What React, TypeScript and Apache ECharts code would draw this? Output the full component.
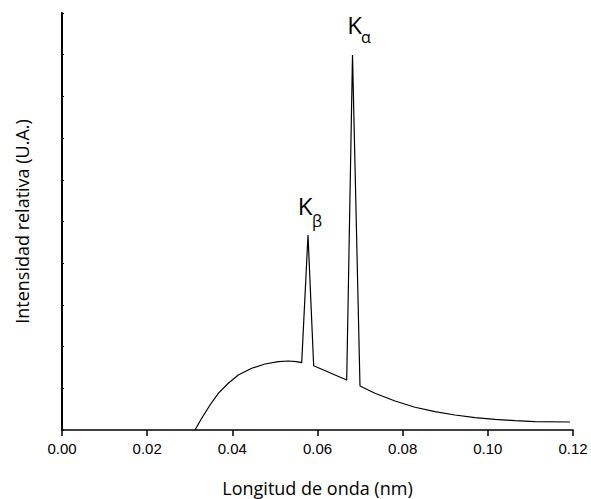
import React, { useEffect, useRef } from "react";
import * as echarts from "echarts";

const wavelength = [
  0.03123, 0.03281, 0.03476, 0.0367, 0.03905, 0.0414, 0.04455, 0.04767,
  0.0508, 0.05314, 0.05512, 0.05629, 0.05777, 0.0591, 0.06686, 0.06822,
  0.06998, 0.0735, 0.0782, 0.0829, 0.08759, 0.09229, 0.09699, 0.10168,
  0.10638, 0.11108, 0.1193,
];
const intensity = [
  0, 0.281, 0.6, 0.88, 1.12, 1.319, 1.48, 1.583, 1.638, 1.655, 1.638, 1.614,
  4.676, 1.54, 1.199, 8.99, 1.055, 0.88, 0.695, 0.545, 0.439, 0.36, 0.295,
  0.257, 0.223, 0.199, 0.192,
];
const xTicks = [0, 0.02, 0.04, 0.06, 0.08, 0.1, 0.12];
const peakBeta = [0.05777, 4.676];
const peakAlpha = [0.06822, 8.99];

export default function App() {
  const ref = useRef<HTMLDivElement>(null);
  useEffect(() => {
    const chart = echarts.init(ref.current!, null, { renderer: "svg" });
    const kStyle = { fontFamily: "Open Sans", fontSize: 24, color: "#000" };
    const sStyle = { fontFamily: "Open Sans", fontSize: 16, color: "#000" };
    chart.setOption({
      animation: false,
      backgroundColor: "#fff",
      grid: {
        left: 62,
        right: 18,
        top: 13,
        bottom: 69,
        containLabel: false,
        outerBoundsMode: "none",
      },
      xAxis: {
        type: "value",
        min: xTicks[0],
        max: xTicks[xTicks.length - 1],
        interval: 0.02,
        name: "Longitud de onda (nm)",
        nameLocation: "middle",
        nameGap: 49,
        nameTextStyle: { fontFamily: "Open Sans", fontSize: 18, color: "#000" },
        axisLine: { lineStyle: { color: "#000", width: 1.5 } },
        axisTick: { length: 6, lineStyle: { color: "#000", width: 1.5 } },
        axisLabel: {
          margin: 11,
          fontFamily: "Liberation Sans",
          fontSize: 15,
          color: "#000",
          formatter: (v: number) => v.toFixed(2),
        },
        splitLine: { show: false },
      },
      yAxis: {
        type: "value",
        min: 0,
        max: 10,
        interval: 1,
        name: "Intensidad relativa (U.A.)",
        nameLocation: "middle",
        nameGap: 31,
        nameTextStyle: { fontFamily: "Open Sans", fontSize: 18, color: "#000" },
        axisLine: { show: true, lineStyle: { color: "#000", width: 2 } },
        axisTick: { show: true, inside: true, length: 2, lineStyle: { color: "#000" } },
        axisLabel: { show: false },
        splitLine: { show: false },
      },
      series: [
        {
          type: "line",
          data: wavelength.map((x, i) => [x, intensity[i]]),
          showSymbol: false,
          symbol: "none",
          lineStyle: { color: "#000", width: 1.2 },
          markPoint: {
            symbol: "circle",
            symbolSize: 0,
            silent: true,
            data: [
              { coord: peakBeta, label: { show: true, position: "inside", offset: [-3, -30], formatter: "K", ...kStyle } },
              { coord: peakBeta, label: { show: true, position: "inside", offset: [9, -14], formatter: "β", ...sStyle } },
              { coord: peakAlpha, label: { show: true, position: "inside", offset: [2, -31], formatter: "K", ...kStyle } },
              { coord: peakAlpha, label: { show: true, position: "inside", offset: [13.5, -18], formatter: "α", ...sStyle } },
            ],
          },
        },
      ],
    });
    return () => chart.dispose();
  }, []);
  return (
    <div
      ref={ref}
      style={{ position: "absolute", left: 0, top: 0, width: 591, height: 499 }}
    />
  );
}
